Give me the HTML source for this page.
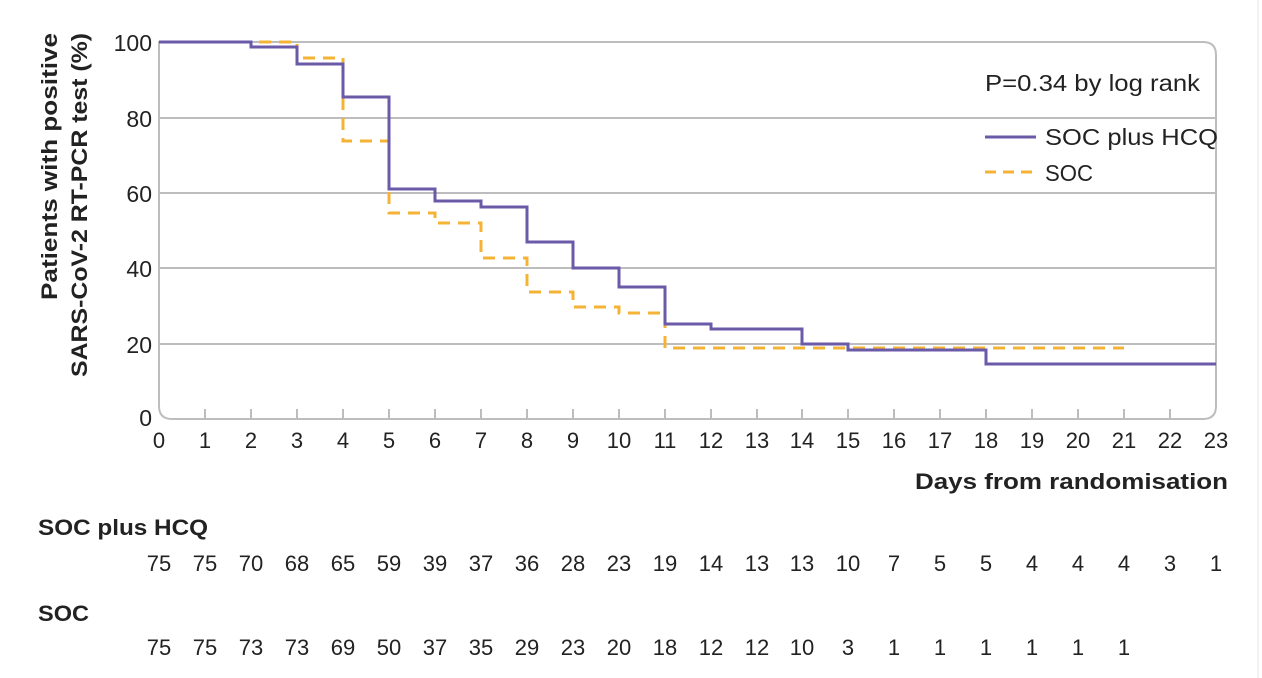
<!DOCTYPE html>
<html><head><meta charset="utf-8"><style>
html,body{margin:0;padding:0;background:#fff;}
svg{display:block;font-family:"Liberation Sans",sans-serif;}
</style></head><body>
<svg width="1262" height="678" viewBox="0 0 1262 678" xmlns="http://www.w3.org/2000/svg">
<g stroke="#bdbdbd" stroke-width="2" fill="none">
<line x1="159" y1="118" x2="1216" y2="118"/>
<line x1="159" y1="193" x2="1216" y2="193"/>
<line x1="159" y1="268" x2="1216" y2="268"/>
<line x1="159" y1="344" x2="1216" y2="344"/>
<path d="M159 42 H1203 Q1216 42 1216 55 V406 Q1216 419 1203 419 H172 Q159 419 159 406 Z"/>
<path d="M205 419v-10M251 419v-10M297 419v-10M343 419v-10M389 419v-10M435 419v-10M481 419v-10M527 419v-10M573 419v-10M619 419v-10M665 419v-10M711 419v-10M757 419v-10M802 419v-10M848 419v-10M894 419v-10M940 419v-10M986 419v-10M1032 419v-10M1078 419v-10M1124 419v-10M1170 419v-10"/>
</g>
<line x1="1258" y1="0" x2="1258" y2="678" stroke="#e4e4e4" stroke-width="1"/>
<path d="M159 42 H297 V58 H343 V141 H389 V213 H435 V223 H481 V258 H527 V292 H573 V307 H619 V313 H665 V348 H1124" fill="none" stroke="#f5b335" stroke-width="3" stroke-dasharray="12 8"/>
<path d="M159 42 H251 V47 H297 V64 H343 V97 H389 V189 H435 V201 H481 V207 H527 V242 H573 V268 H619 V287 H665 V324 H711 V329 H802 V344 H848 V350 H986 V364 H1216" fill="none" stroke="#6a5aa8" stroke-width="3"/>
<g font-size="23" fill="#222" text-anchor="end">
<text x="152" y="51">100</text><text x="152" y="127">80</text><text x="152" y="202">60</text><text x="152" y="277">40</text><text x="152" y="353">20</text><text x="152" y="426">0</text>
</g>
<g font-size="22" fill="#222" text-anchor="middle">
<text x="159" y="448">0</text><text x="205" y="448">1</text><text x="251" y="448">2</text><text x="297" y="448">3</text><text x="343" y="448">4</text><text x="389" y="448">5</text><text x="435" y="448">6</text><text x="481" y="448">7</text><text x="527" y="448">8</text><text x="573" y="448">9</text><text x="619" y="448">10</text><text x="665" y="448">11</text><text x="711" y="448">12</text><text x="757" y="448">13</text><text x="802" y="448">14</text><text x="848" y="448">15</text><text x="894" y="448">16</text><text x="940" y="448">17</text><text x="986" y="448">18</text><text x="1032" y="448">19</text><text x="1078" y="448">20</text><text x="1124" y="448">21</text><text x="1170" y="448">22</text><text x="1216" y="448">23</text>
</g>
<g font-size="22" font-weight="bold" fill="#222">
<text transform="translate(57 300) rotate(-90)" textLength="267" lengthAdjust="spacingAndGlyphs">Patients with positive</text>
<text transform="translate(87 377) rotate(-90)" textLength="344" lengthAdjust="spacingAndGlyphs">SARS-CoV-2 RT-PCR test (%)</text>
</g>
<text x="915" y="489" font-size="22" font-weight="bold" fill="#222" textLength="313" lengthAdjust="spacingAndGlyphs">Days from randomisation</text>
<text x="985" y="91" font-size="23" fill="#222" textLength="215" lengthAdjust="spacingAndGlyphs">P=0.34 by log rank</text>
<line x1="985" y1="137" x2="1036" y2="137" stroke="#6a5aa8" stroke-width="3"/>
<text x="1045" y="145" font-size="23" fill="#222" textLength="173" lengthAdjust="spacingAndGlyphs">SOC plus HCQ</text>
<line x1="985" y1="172" x2="1036" y2="172" stroke="#f5b335" stroke-width="3" stroke-dasharray="11 7"/>
<text x="1045" y="181" font-size="23" fill="#222" textLength="48" lengthAdjust="spacingAndGlyphs">SOC</text>
<text x="38" y="535" font-size="22" font-weight="bold" fill="#222" textLength="170" lengthAdjust="spacingAndGlyphs">SOC plus HCQ</text>
<text x="38" y="621" font-size="22" font-weight="bold" fill="#222" textLength="51" lengthAdjust="spacingAndGlyphs">SOC</text>
<g font-size="22" fill="#222" text-anchor="middle">
<text x="159" y="571">75</text><text x="205" y="571">75</text><text x="251" y="571">70</text><text x="297" y="571">68</text><text x="343" y="571">65</text><text x="389" y="571">59</text><text x="435" y="571">39</text><text x="481" y="571">37</text><text x="527" y="571">36</text><text x="573" y="571">28</text><text x="619" y="571">23</text><text x="665" y="571">19</text><text x="711" y="571">14</text><text x="757" y="571">13</text><text x="802" y="571">13</text><text x="848" y="571">10</text><text x="894" y="571">7</text><text x="940" y="571">5</text><text x="986" y="571">5</text><text x="1032" y="571">4</text><text x="1078" y="571">4</text><text x="1124" y="571">4</text><text x="1170" y="571">3</text><text x="1216" y="571">1</text>
<text x="159" y="655">75</text><text x="205" y="655">75</text><text x="251" y="655">73</text><text x="297" y="655">73</text><text x="343" y="655">69</text><text x="389" y="655">50</text><text x="435" y="655">37</text><text x="481" y="655">35</text><text x="527" y="655">29</text><text x="573" y="655">23</text><text x="619" y="655">20</text><text x="665" y="655">18</text><text x="711" y="655">12</text><text x="757" y="655">12</text><text x="802" y="655">10</text><text x="848" y="655">3</text><text x="894" y="655">1</text><text x="940" y="655">1</text><text x="986" y="655">1</text><text x="1032" y="655">1</text><text x="1078" y="655">1</text><text x="1124" y="655">1</text>
</g>
</svg>
</body></html>
